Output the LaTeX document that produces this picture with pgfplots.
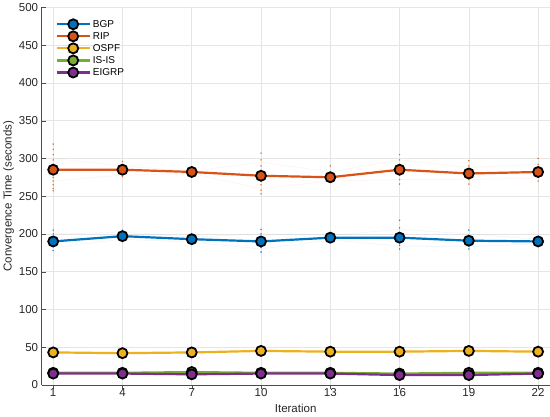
\documentclass[border=0pt]{standalone}
\usepackage{pgfplots}
\pgfplotsset{compat=1.18}
\usepackage{fontspec}
\setmainfont{Liberation Sans}
\definecolor{cB}{rgb}{0,0.447,0.741}
\definecolor{cR}{rgb}{0.85,0.325,0.098}
\definecolor{cO}{rgb}{0.929,0.694,0.125}
\definecolor{cI}{rgb}{0.466,0.674,0.188}
\definecolor{cE}{rgb}{0.494,0.184,0.556}
\begin{document}
\begin{tikzpicture}
\begin{axis}[
  scale only axis, width=506bp, height=376bp,
  xmin=0.5, xmax=22.5, ymin=0, ymax=500,
  xtick={1,4,7,10,13,16,19,22},
  ytick={0,50,...,500},
  grid=major, major grid style={gray!20, line width=0.5pt},
  axis x line*=bottom, axis y line*=left,
  axis line style={black!70, line width=0.7pt},
  tick style={black!70}, tick align=inside, major tick length=4bp,
  x tick style={yshift=-4bp},
  ticklabel style={font=\fontsize{11.5}{13}\selectfont, text=black!85},
  /pgf/number format/assume math mode=true,
  xlabel={Iteration}, ylabel={Convergence Time (seconds)},
  label style={font=\fontsize{11.5}{13}\selectfont, text=black!85},
  xlabel style={yshift=-1pt}, ylabel style={yshift=-2pt},
  legend style={at={(0.025,0.975)}, anchor=north west, draw=none, fill=none,
    font=\fontsize{10}{11}\selectfont, row sep=-0.4pt, inner sep=1pt},
  legend cell align=left,
  legend image code/.code={\draw[mark repeat=2,mark phase=2] plot coordinates {(0bp,0bp)(16.5bp,0bp)(33bp,0bp)};},
  every axis plot/.append style={line width=2.2pt},
]
% faint individual runs
\addplot[cR, opacity=0.08, line width=0.5pt, forget plot] coordinates {(1,300)(4,290)(7,283)(10,295)(13,282)(16,298)(19,288)(22,292)};
\addplot[cR, opacity=0.08, line width=0.5pt, forget plot] coordinates {(1,270)(4,278)(7,280)(10,260)(13,270)(16,272)(19,272)(22,274)};
\addplot[cB, opacity=0.08, line width=0.5pt, forget plot] coordinates {(1,200)(4,202)(7,196)(10,200)(13,198)(16,206)(19,200)(22,193)};
\addplot[cB, opacity=0.08, line width=0.5pt, forget plot] coordinates {(1,182)(4,193)(7,189)(10,180)(13,192)(16,184)(19,183)(22,187)};
% scatter of runs
\addplot[only marks, mark=*, mark size=0.55pt, cR!85, line width=0.3pt, forget plot] coordinates {
 (1,319)(1,312)(1,305)(1,298)(1,292)(1,280)(1,275)(1,270)(1,265)(1,260)(1,257)
 (4,296)(4,291)(4,280)(4,276)
 (7,287)(7,278)
 (10,307)(10,298)(10,290)(10,284)(10,270)(10,265)(10,258)(10,253)
 (13,290)(13,282)(13,270)
 (16,305)(16,298)(16,292)(16,278)(16,272)(16,266)
 (19,297)(19,290)(19,272)(19,266)
 (22,300)(22,292)(22,275)(22,270)
};
\addplot[only marks, mark=*, mark size=0.55pt, cB!85, line width=0.3pt, forget plot] coordinates {
 (1,205)(1,200)(1,183)(1,178)
 (4,205)(4,190)
 (7,198)(7,187)
 (10,206)(10,200)(10,182)(10,176)
 (13,200)(13,190)
 (16,218)(16,208)(16,202)(16,185)(16,180)
 (19,205)(19,198)(19,184)(19,180)
 (22,195)(22,186)
};
\addplot[cB, mark=*, mark size=5pt, mark options={draw=black, line width=1.8pt, fill=cB}] coordinates {
 (1,190)(4,197)(7,193)(10,190)(13,195)(16,195)(19,191)(22,190)};
\addlegendentry{BGP}
\addplot[cR, mark=*, mark size=5pt, mark options={draw=black, line width=1.8pt, fill=cR}] coordinates {
 (1,285)(4,285)(7,282)(10,277)(13,275)(16,285)(19,280)(22,282)};
\addlegendentry{RIP}
\addplot[cO, mark=*, mark size=5pt, mark options={draw=black, line width=1.8pt, fill=cO}] coordinates {
 (1,43)(4,42)(7,43)(10,45)(13,44)(16,44)(19,45)(22,44)};
\addlegendentry{OSPF}
\addplot[cI, mark=*, mark size=5pt, mark options={draw=black, line width=1.8pt, fill=cI}] coordinates {
 (1,16)(4,16)(7,17)(10,16)(13,16)(16,15)(19,16)(22,16)};
\addlegendentry{IS-IS}
\addplot[cE, mark=*, mark size=5pt, mark options={draw=black, line width=1.8pt, fill=cE}] coordinates {
 (1,15)(4,15)(7,14)(10,15)(13,15)(16,13)(19,13)(22,15)};
\addlegendentry{EIGRP}
\end{axis}
\end{tikzpicture}
\end{document}
